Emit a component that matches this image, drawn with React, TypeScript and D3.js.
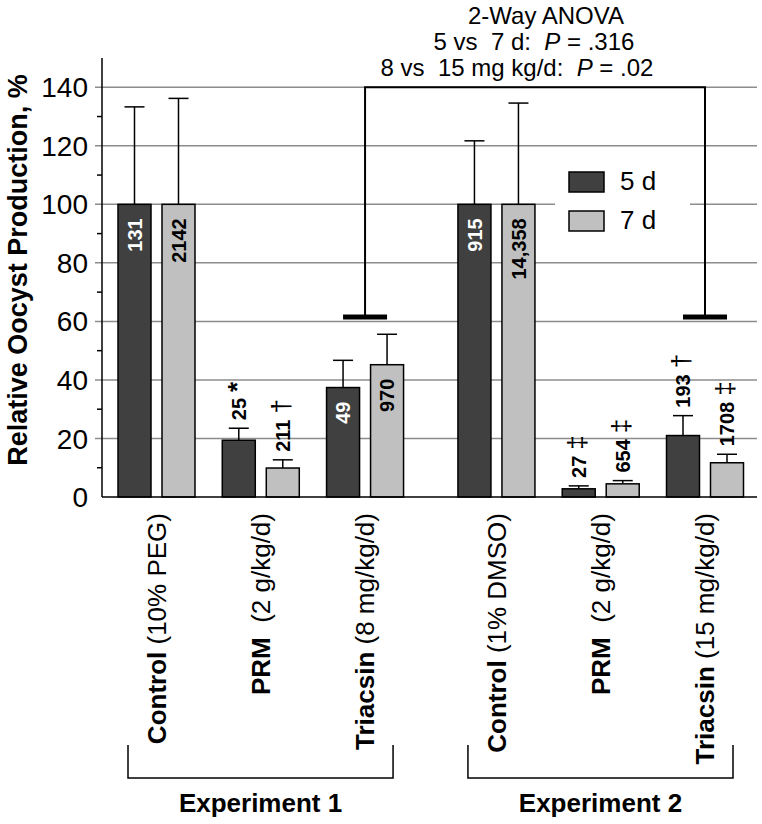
import React from 'react';
import * as d3 from 'd3';

const groups = ['Control', 'PRM', 'Triacsin', 'Control', 'PRM', 'Triacsin'];
const doses = ['(10% PEG)', '(2 g/kg/d)', '(8 mg/kg/d)', '(1% DMSO)', '(2 g/kg/d)', '(15 mg/kg/d)'];
const nameGaps = [' ', '  ', ' ', ' ', '  ', ' '];
const experiments = ['Experiment 1', 'Experiment 2'];
const experimentOf = [0, 0, 0, 1, 1, 1];
const seriesNames = ['5 d', '7 d'];

const values5 = [100, 19.4, 37.4, 100, 2.8, 21];
const errors5 = [133.3, 23.5, 46.7, 121.7, 3.8, 27.8];
const values7 = [100, 9.9, 45.2, 100, 4.5, 11.7];
const errors7 = [136.2, 12.7, 55.6, 134.6, 5.6, 14.6];
const labels5 = ['131', '25', '49', '915', '27', '193'];
const labels7 = ['2142', '211', '970', '14,358', '654', '1708'];
const marks5 = ['', '*', '', '', '\u2021', '\u2020'];
const marks7 = ['', '\u2020', '', '', '\u2021', '\u2021'];

const yTicks = [0, 20, 40, 60, 80, 100, 120, 140];
const yMinorTicks = [10, 30, 50, 70, 90, 110, 130];

const anovaLines = ['2-Way ANOVA', '5 vs  7 d:  ', '8 vs  15 mg kg/d:  '];
const anovaP = ['', '.316', '.02'];
const bracketTop = 140;
const bracketBottom = 61.5;
const bracketGroups = [2, 5];

const FONT = "'Liberation Sans', Arial, Helvetica, sans-serif";

export default function App() {
  const y = d3.scaleLinear().domain([0, 150]).range([497, 58]);
  const slot = (i: number) => i + experimentOf[i] * 0.26;
  const x = d3.scaleLinear().domain([0, slot(5)]).range([156.5, 705]);
  const xSub = d3.scaleBand<string>().domain(seriesNames).range([-38.5, 38.5]).paddingInner(0.25);
  const bw = xSub.bandwidth();
  const fills = ['#404040', '#c0c0c0'];
  const series = [
    { name: seriesNames[0], values: values5, errors: errors5, labels: labels5, marks: marks5 },
    { name: seriesNames[1], values: values7, errors: errors7, labels: labels7, marks: marks7 },
  ];
  const x0 = 102;
  const x1 = 757;

  return (
    <svg width={762} height={824} style={{ position: 'absolute', left: 0, top: 0, fontFamily: FONT }}>
      <rect width={762} height={824} fill="#fff" />
      {/* gridlines */}
      {yTicks.filter((t) => t > 0).map((t) => (
        <line key={'g' + t} x1={x0 - 7} x2={x1} y1={y(t)} y2={y(t)} stroke="#8c8c8c" strokeWidth={1.5} />
      ))}
      {yMinorTicks.map((t) => (
        <line key={'m' + t} x1={x0 - 5} x2={x0} y1={y(t)} y2={y(t)} stroke="#000" strokeWidth={1.5} />
      ))}
      {yTicks.map((t) => (
        <text key={'t' + t} x={88} y={y(t)} dy="0.36em" textAnchor="end" fontSize={28} fill="#000">{t}</text>
      ))}
      <text transform={`translate(27,270) rotate(-90)`} textAnchor="middle" fontSize={27} fontWeight="bold">
        Relative Oocyst Production, %
      </text>

      {/* legend background */}
      <rect x={555} y={155} width={135} height={90} fill="#fff" />
      {series.map((s, k) => (
        <g key={'leg' + k}>
          <rect x={569} y={172 + k * 39} width={35} height={20} fill={fills[k]} stroke="#000" strokeWidth={1.5} />
          <text x={620} y={190 + k * 39} fontSize={26}>{s.name}</text>
        </g>
      ))}

      {/* bars */}
      {series.map((s, k) =>
        s.values.map((v, i) => {
          const cx = x(slot(i)) + (xSub(s.name) as number) + bw / 2;
          const top = y(v);
          const et = y(s.errors[i]);
          const inside = v > 30;
          return (
            <g key={`b${k}-${i}`}>
              <line x1={cx} x2={cx} y1={top} y2={et} stroke="#000" strokeWidth={1.5} />
              <line x1={cx - 10} x2={cx + 10} y1={et} y2={et} stroke="#000" strokeWidth={1.5} />
              <rect x={cx - bw / 2} y={top} width={bw} height={y(0) - top} fill={fills[k]} stroke="#000" strokeWidth={1.5} />
              {inside ? (
                <text transform={`translate(${cx},${top + 14}) rotate(-90)`} dy="0.36em" textAnchor="end" fontSize={20} fontWeight="bold" fill={k === 0 ? '#fff' : '#000'}>
                  {s.labels[i]}
                </text>
              ) : (
                <text transform={`translate(${cx},${et - 8}) rotate(-90)`} dy="0.36em" textAnchor="start" fontSize={20} fontWeight="bold" style={{ whiteSpace: 'pre' }}>
                  {s.labels[i]}
                  <tspan fontSize={s.marks[i] === '*' ? 26 : 26} fontWeight={s.marks[i] === '*' ? 'bold' : 'normal'} dx={6}>{s.marks[i]}</tspan>
                </text>
              )}
            </g>
          );
        })
      )}

      {/* axes */}
      <line x1={x0} x2={x0} y1={y(0)} y2={y(150)} stroke="#000" strokeWidth={1.5} />
      <line x1={x0} x2={x1} y1={y(0)} y2={y(0)} stroke="#000" strokeWidth={1.5} />

      {/* ANOVA bracket */}
      <path
        d={`M${x(slot(bracketGroups[0]))},${y(bracketBottom)}V${y(bracketTop)}H${x(slot(bracketGroups[1]))}V${y(bracketBottom)}`}
        fill="none" stroke="#000" strokeWidth={2}
      />
      {bracketGroups.map((g) => (
        <rect key={'tb' + g} x={x(slot(g)) - 22} y={y(bracketBottom) - 2.5} width={44} height={5} fill="#000" />
      ))}
      {anovaLines.map((l, i) => (
        <text key={'a' + i} x={[546, 534, 517][i]} y={24 + i * 26} textAnchor="middle" fontSize={24} style={{ whiteSpace: 'pre' }}>
          {l}
          {anovaP[i] && (
            <>
              <tspan fontStyle="italic">P</tspan>
              <tspan>{' = ' + anovaP[i]}</tspan>
            </>
          )}
        </text>
      ))}

      {/* category labels */}
      {groups.map((g, i) => (
        <text key={'c' + i} transform={`translate(${x(slot(i))},513) rotate(-90)`} dy="0.36em" textAnchor="end" fontSize={26} style={{ whiteSpace: 'pre' }}>
          <tspan fontWeight="bold">{g}</tspan>
          <tspan>{nameGaps[i] + doses[i]}</tspan>
        </text>
      ))}

      {/* experiment brackets */}
      {experiments.map((e, k) => {
        const idx = experimentOf.map((ex, i) => (ex === k ? i : -1)).filter((i) => i >= 0);
        const l = x(slot(idx[0])) - 28.5;
        const r = x(slot(idx[idx.length - 1])) + 28;
        return (
          <g key={'e' + k}>
            <path d={`M${l},745V778H${r}V745`} fill="none" stroke="#000" strokeWidth={1.5} />
            <text x={(l + r) / 2} y={812} textAnchor="middle" fontSize={26} fontWeight="bold">{e}</text>
          </g>
        );
      })}
    </svg>
  );
}
